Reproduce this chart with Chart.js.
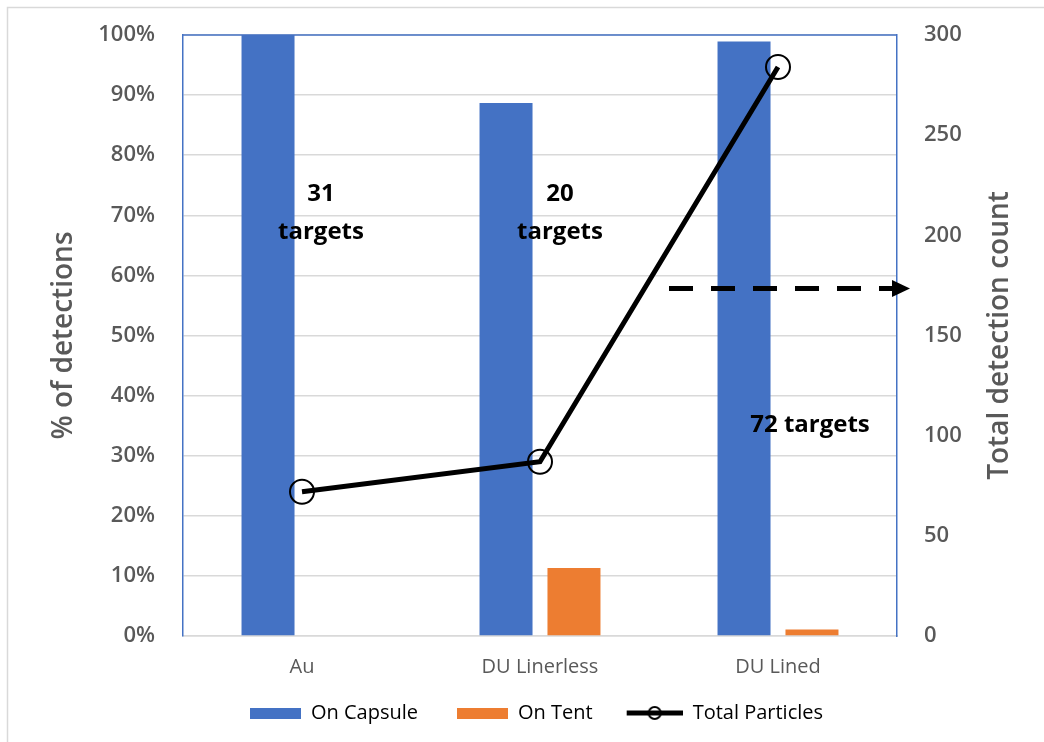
<!DOCTYPE html>
<html>
<head>
<meta charset="utf-8">
<title>Detections by capsule type</title>
<script src="https://cdn.jsdelivr.net/npm/chart.js@4.4.0/dist/chart.umd.min.js"></script>
<style>
  html, body { margin: 0; padding: 0; background: #fff; }
  #wrap { width: 1044px; height: 742px; position: relative; }
</style>
</head>
<body>
<div id="wrap"><canvas id="detChart"></canvas></div>
<script>
// data
var categories = ['Au', 'DU Linerless', 'DU Lined'];
var onCapsule = [100, 88.7, 98.9];
var onTent = [0, 11.3, 1.1];
var totalParticles = [72, 87, 284];
var pctTicks = [0, 10, 20, 30, 40, 50, 60, 70, 80, 90, 100];
var countTicks = [0, 50, 100, 150, 200, 250, 300];
var targetNotes = [['31', 'targets'], ['20', 'targets'], ['72 targets']];
var seriesNames = ['On Capsule', 'On Tent', 'Total Particles'];

var BLUE = '#4472C4', ORANGE = '#ED7D31', GREY = '#595959', GRID = '#d9d9d9';
var FONT = "'Open Sans', 'DejaVu Sans', sans-serif";

// legend swatches (box on the right side of a wider image)
function boxSwatch(color) {
    var c = document.createElement('canvas');
    c.width = 80; c.height = 11;
    var g = c.getContext('2d');
    g.fillStyle = color;
    g.fillRect(29, 0, 51, 11);
    return c;
}
function lineSwatch() {
    var c = document.createElement('canvas');
    c.width = 80; c.height = 16;
    var g = c.getContext('2d');
    g.strokeStyle = '#000';
    g.lineWidth = 5;
    g.beginPath(); g.moveTo(24, 8); g.lineTo(80, 8); g.stroke();
    g.lineWidth = 2;
    g.beginPath(); g.arc(52, 8, 6, 0, Math.PI * 2); g.stroke();
    return c;
}

// vertical axes: fixed width, no extra room for label overflow
function fixWidth(w) {
    return function (s) {
        s.width = w;
        s.paddingTop = 0;
        s.paddingBottom = 0;
    };
}

var notesPlugin = {
    id: 'notes',
    beforeDraw: function (chart) {
        var ctx = chart.ctx;
        ctx.save();
        ctx.strokeStyle = GRID;
        ctx.lineWidth = 1.5;
        ctx.beginPath();
        ctx.moveTo(7.5, chart.height);
        ctx.lineTo(7.5, 7.5);
        ctx.lineTo(chart.width, 7.5);
        ctx.stroke();
        ctx.restore();
    },
    afterDatasetsDraw: function (chart) {
        var ctx = chart.ctx, xs = chart.scales.x, ys = chart.scales.y, y1 = chart.scales.y1;
        var area = chart.chartArea;
        ctx.save();

        // top border of plot area
        ctx.strokeStyle = BLUE;
        ctx.lineWidth = 1.5;
        ctx.beginPath();
        ctx.moveTo(area.left, area.top);
        ctx.lineTo(area.right, area.top);
        ctx.stroke();

        // target counts
        ctx.fillStyle = '#000';
        ctx.font = "700 24px " + FONT;
        ctx.textAlign = 'center';
        ctx.textBaseline = 'middle';
        ctx.fillText(targetNotes[0][0], xs.getPixelForValue(0) + 19, ys.getPixelForValue(73.5));
        ctx.fillText(targetNotes[0][1], xs.getPixelForValue(0) + 19, ys.getPixelForValue(67.2));
        ctx.fillText(targetNotes[1][0], xs.getPixelForValue(1) + 20, ys.getPixelForValue(73.5));
        ctx.fillText(targetNotes[1][1], xs.getPixelForValue(1) + 20, ys.getPixelForValue(67.2));
        ctx.fillText(targetNotes[2][0], xs.getPixelForValue(2) + 32, ys.getPixelForValue(35));

        // dashed arrow pointing at the right axis
        var ay = y1.getPixelForValue(173.5);
        var ax0 = xs.getPixelForValue(2) - 109;
        var tip = area.right + 13;
        ctx.strokeStyle = '#000';
        ctx.lineWidth = 5;
        ctx.setLineDash([24, 18]);
        ctx.beginPath();
        ctx.moveTo(ax0, ay);
        ctx.lineTo(tip - 17, ay);
        ctx.stroke();
        ctx.setLineDash([]);
        ctx.beginPath();
        ctx.moveTo(tip, ay);
        ctx.lineTo(tip - 18, ay - 8.5);
        ctx.lineTo(tip - 18, ay + 8.5);
        ctx.closePath();
        ctx.fill();

        // right axis title, reading bottom to top
        ctx.fillStyle = GREY;
        ctx.font = "600 28px " + FONT;
        ctx.translate(1000, (area.top + area.bottom) / 2);
        ctx.rotate(-Math.PI / 2);
        ctx.fillText('Total detection count', 0, 0);
        ctx.restore();
    }
};

var ctx = document.getElementById('detChart').getContext('2d');
var detChart = new Chart(ctx, {
    type: 'bar',
    data: {
        labels: categories,
        datasets: [
            {
                type: 'line', label: seriesNames[2], data: totalParticles, yAxisID: 'y1', order: -1,
                borderColor: '#000', borderWidth: 5, tension: 0,
                pointRadius: 12, pointBorderWidth: 2, pointBorderColor: '#000',
                pointBackgroundColor: 'rgba(0,0,0,0)'
            },
            {
                label: seriesNames[0], data: onCapsule, yAxisID: 'y', order: 1,
                backgroundColor: BLUE, categoryPercentage: 0.571, barPercentage: 0.78
            },
            {
                label: seriesNames[1], data: onTent, yAxisID: 'y', order: 2,
                backgroundColor: ORANGE, categoryPercentage: 0.571, barPercentage: 0.78
            }
        ]
    },
    options: {
        responsive: true,
        maintainAspectRatio: false,
        animation: false,
        events: [],
        layout: { padding: { top: 35, bottom: 9, left: 0, right: 0 } },
        scales: {
            x: {
                grid: { display: false },
                border: { color: GRID, width: 1.5 },
                ticks: { color: GREY, padding: 11, font: { family: FONT, size: 20 } },
                afterFit: function (s) { s.height = 57; }
            },
            y: {
                position: 'left', min: 0, max: 100,
                grid: { color: GRID, lineWidth: 1.5, drawTicks: false },
                border: { color: BLUE, width: 1.5 },
                afterBuildTicks: function (s) { s.ticks = pctTicks.map(function (v) { return { value: v }; }); },
                ticks: {
                    color: GREY, padding: 28, font: { family: FONT, size: 22, weight: '600' },
                    callback: function (v) { return v + '%'; }
                },
                title: {
                    display: true, text: '% of detections', color: GREY,
                    font: { family: FONT, size: 28, weight: '600' }, padding: { top: 47, bottom: 0 }
                },
                afterFit: fixWidth(183)
            },
            y1: {
                position: 'right', min: 0, max: 300,
                grid: { display: false, drawTicks: false },
                border: { color: BLUE, width: 1.5 },
                afterBuildTicks: function (s) { s.ticks = countTicks.map(function (v) { return { value: v }; }); },
                ticks: { color: GREY, padding: 27, font: { family: FONT, size: 22, weight: '600' } },
                afterFit: fixWidth(147)
            }
        },
        plugins: {
            tooltip: { enabled: false },
            legend: {
                position: 'bottom',
                labels: {
                    usePointStyle: true, pointStyleWidth: 80, boxHeight: 11, padding: 10,
                    color: GREY, font: { family: FONT, size: 20 },
                    generateLabels: function () {
                        return [
                            { text: seriesNames[0], pointStyle: boxSwatch(BLUE), fillStyle: BLUE, lineWidth: 0, hidden: false, datasetIndex: 1 },
                            { text: seriesNames[1], pointStyle: boxSwatch(ORANGE), fillStyle: ORANGE, lineWidth: 0, hidden: false, datasetIndex: 2 },
                            { text: seriesNames[2], pointStyle: lineSwatch(), fillStyle: '#000', lineWidth: 0, hidden: false, datasetIndex: 0 }
                        ];
                    }
                }
            }
        }
    },
    plugins: [notesPlugin]
});
</script>
</body>
</html>
